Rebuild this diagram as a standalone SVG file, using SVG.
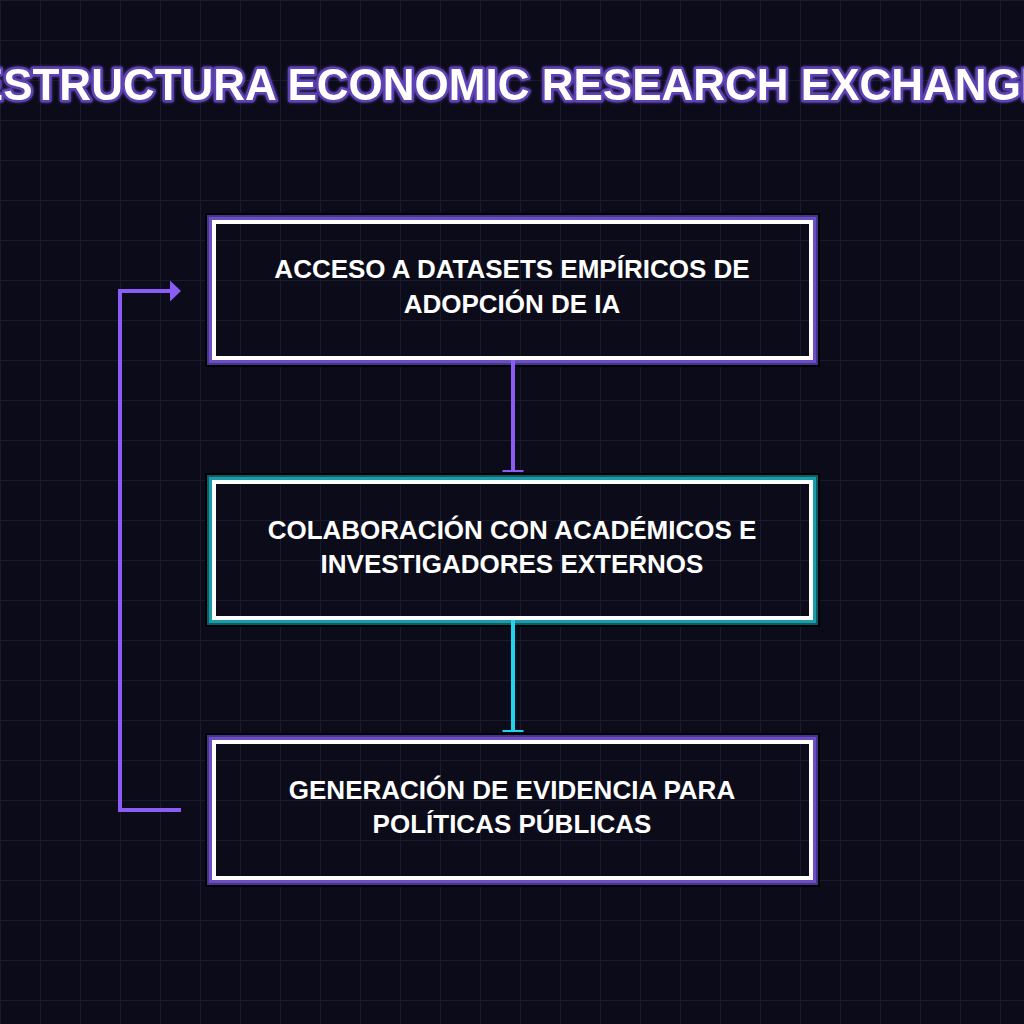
<svg xmlns="http://www.w3.org/2000/svg" width="1024" height="1024" viewBox="0 0 1024 1024">
  <defs>
    <pattern id="grid" x="0" y="0" width="40" height="40" patternUnits="userSpaceOnUse">
      <path d="M40,0 L0,0 L0,40" fill="none" stroke="#1a1a2e" stroke-width="2"/>
    </pattern>
    <filter id="glow" x="-10%" y="-50%" width="120%" height="200%">
      <feGaussianBlur in="SourceAlpha" stdDeviation="1.5" result="b"/>
      <feFlood flood-color="#5b3fae"/>
      <feComposite in2="b" operator="in" result="g"/>
      <feMerge><feMergeNode in="g"/><feMergeNode in="SourceGraphic"/></feMerge>
    </filter>
    <marker id="teeP" markerUnits="userSpaceOnUse" markerWidth="30" markerHeight="30" viewBox="-15 -15 30 30" refX="0" refY="0" orient="auto" overflow="visible">
      <rect x="-2" y="-10.5" width="2" height="21" fill="#8b5cf6"/>
    </marker>
    <marker id="teeC" markerUnits="userSpaceOnUse" markerWidth="30" markerHeight="30" viewBox="-15 -15 30 30" refX="0" refY="0" orient="auto" overflow="visible">
      <rect x="-2" y="-10.5" width="2" height="21" fill="#22d3ee"/>
    </marker>
    <marker id="arrowP" markerUnits="userSpaceOnUse" markerWidth="30" markerHeight="30" viewBox="-15 -15 30 30" refX="0" refY="0" orient="auto" overflow="visible">
      <path d="M0,-10.5 L11,0 L0,10.5 Z" fill="#8b5cf6"/>
    </marker>
  </defs>
  <style>
    .title { font-family: "Liberation Sans", Arial, sans-serif; font-weight: bold; font-size: 44px; fill: #ffffff; stroke: #5e42b4; stroke-width: 5; stroke-linejoin: round; paint-order: stroke fill; }
    .label { font-family: "Liberation Sans", Arial, sans-serif; font-weight: bold; font-size: 26px; fill: #ffffff; text-anchor: middle; }
    .fr { fill: none; }
    .blk { stroke: #000000; stroke-width: 4; }
    .p1 { stroke: #47348e; stroke-width: 3; }
    .p2 { stroke: #6b4fc2; stroke-width: 3; }
    .c1 { stroke: #0f5c66; stroke-width: 3; }
    .c2 { stroke: #1a9dab; stroke-width: 3; }
    .wht { stroke: #ffffff; stroke-width: 4; }
    .conn { fill: none; stroke-width: 4; }
  </style>
  <rect width="1024" height="1024" fill="#0b0b19"/>
  <rect width="1024" height="1024" fill="url(#grid)"/>

  <text class="title" x="512" y="100" text-anchor="middle" filter="url(#glow)">ESTRUCTURA ECONOMIC RESEARCH EXCHANGE</text>

  <g id="node-acceso" transform="translate(212,220)">
    <rect class="fr blk" x="-5" y="-5" width="611" height="150"/>
    <rect class="fr p1" x="-3.5" y="-3.5" width="608" height="147"/>
    <rect class="fr p2" x="-1.5" y="-1.5" width="604" height="143"/>
    <rect class="fr wht" x="2" y="2" width="597" height="136"/>
    <text class="label" x="300" y="58">ACCESO A DATASETS EMPÍRICOS DE</text>
    <text class="label" x="300" y="93">ADOPCIÓN DE IA</text>
  </g>

  <g id="node-colaboracion" transform="translate(212,480)">
    <rect class="fr blk" x="-5" y="-5" width="611" height="150"/>
    <rect class="fr c1" x="-3.5" y="-3.5" width="608" height="147"/>
    <rect class="fr c2" x="-1.5" y="-1.5" width="604" height="143"/>
    <rect class="fr wht" x="2" y="2" width="597" height="136"/>
    <text class="label" x="300" y="59">COLABORACIÓN CON ACADÉMICOS E</text>
    <text class="label" x="300" y="93">INVESTIGADORES EXTERNOS</text>
  </g>

  <g id="node-generacion" transform="translate(212,740)">
    <rect class="fr blk" x="-5" y="-5" width="611" height="150"/>
    <rect class="fr p1" x="-3.5" y="-3.5" width="608" height="147"/>
    <rect class="fr p2" x="-1.5" y="-1.5" width="604" height="143"/>
    <rect class="fr wht" x="2" y="2" width="597" height="136"/>
    <text class="label" x="300" y="59">GENERACIÓN DE EVIDENCIA PARA</text>
    <text class="label" x="300" y="93">POLÍTICAS PÚBLICAS</text>
  </g>

  <g id="connectors">
    <line class="conn" x1="513" y1="360" x2="513" y2="472" stroke="#8b5cf6" marker-end="url(#teeP)"/>
    <line class="conn" x1="513" y1="620" x2="513" y2="732" stroke="#22d3ee" marker-end="url(#teeC)"/>
    <path class="conn" d="M181,810 L120,810 L120,291 L170,291" stroke="#8b5cf6" stroke-linejoin="miter" marker-end="url(#arrowP)"/>
  </g>
</svg>
